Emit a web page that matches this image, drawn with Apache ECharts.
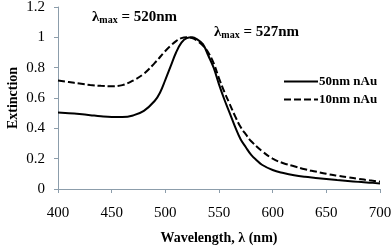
<!DOCTYPE html>
<html><head><meta charset="utf-8">
<script src="https://cdn.jsdelivr.net/npm/echarts@6/dist/echarts.min.js"></script>
<style>html,body{margin:0;padding:0;background:#fff}#c{width:392px;height:250px}</style>
</head><body><div id="c"></div>
<script>
var wl50 = [400,410,420,430,440,450,460,470,480,490,495,500,505,510,515,520,525,530,535,540,545,550,555,560,565,570,575,580,585,590,600,610,620,630,640,650,660,670,680,690,700];
var ext50 = [0.505,0.500,0.494,0.487,0.480,0.475,0.474,0.485,0.515,0.580,0.635,0.720,0.810,0.900,0.965,0.995,1.000,0.985,0.955,0.880,0.800,0.690,0.590,0.500,0.410,0.330,0.275,0.225,0.190,0.160,0.125,0.105,0.090,0.080,0.073,0.066,0.059,0.053,0.047,0.042,0.037];
var wl10 = [400,410,420,430,440,450,460,470,480,490,500,505,510,515,520,525,530,535,540,545,550,555,560,565,570,575,580,590,600,610,620,630,640,650,660,670,680,690,700];
var ext10 = [0.715,0.705,0.695,0.686,0.680,0.677,0.685,0.715,0.760,0.830,0.910,0.945,0.975,0.995,1.000,0.995,0.975,0.945,0.900,0.830,0.730,0.640,0.560,0.480,0.410,0.360,0.315,0.250,0.200,0.170,0.150,0.130,0.115,0.100,0.088,0.077,0.067,0.057,0.048];
var seriesNames = ['50nm nAu','10nm nAu'];
var xTitle = 'Wavelength, \u03bb (nm)';
var yTitle = 'Extinction';
var peakLabels = ['520nm','527nm'];

function pairs(x,y){return x.map(function(v,i){return [v,y[i]];});}
var F = '"Liberation Serif", "Times New Roman", serif';
var axisCol = '#8c9dab';
var chart = echarts.init(document.getElementById('c'), null, {renderer:'canvas'});
var lamRich = {
  l:{fontFamily:F,fontWeight:'bold',fontSize:15,color:'#000'},
  s:{fontFamily:F,fontWeight:'bold',fontSize:10,color:'#000',verticalAlign:'bottom',padding:[6,0,0,0]}
};
chart.setOption({
  animation:false,
  grid:{left:58,right:12,top:7,bottom:61,containLabel:false,outerBoundsMode:'none'},
  legend:{
    orient:'vertical',left:278,top:70,itemWidth:34,itemHeight:10,itemGap:5,
    itemStyle:{color:'transparent',borderColor:'transparent',borderWidth:0,opacity:0},
    textStyle:{fontFamily:F,fontWeight:'bold',fontSize:13,color:'#000',padding:[0,0,0,-4]},
    data:seriesNames
  },
  xAxis:{type:'value',min:400,max:700,interval:50,
    axisLine:{lineStyle:{color:axisCol,width:1}},
    axisTick:{show:true,length:4,lineStyle:{color:axisCol}},
    splitLine:{show:false},
    axisLabel:{fontFamily:F,fontSize:15,color:'#000',margin:17},
    name:xTitle,nameLocation:'middle',nameGap:42,nameMoveOverlap:false,
    nameTextStyle:{fontFamily:F,fontWeight:'bold',fontSize:14,color:'#000'}
  },
  yAxis:{type:'value',min:0,max:1.2,interval:0.2,
    axisLine:{show:true,lineStyle:{color:axisCol,width:1}},
    axisTick:{show:true,length:4,lineStyle:{color:axisCol}},
    splitLine:{show:false},
    axisLabel:{fontFamily:F,fontSize:15,color:'#000',margin:13},
    name:yTitle,nameLocation:'middle',nameGap:38,nameMoveOverlap:false,
    nameTextStyle:{fontFamily:F,fontWeight:'bold',fontSize:14,color:'#000'}
  },
  series:[
    {name:seriesNames[0],type:'line',data:pairs(wl50,ext50),smooth:0.4,showSymbol:false,symbol:'none',
     lineStyle:{color:'#000',width:2,type:'solid'},itemStyle:{color:'#000'}},
    {name:seriesNames[1],type:'line',data:pairs(wl10,ext10),smooth:0.4,showSymbol:false,symbol:'none',
     lineStyle:{color:'#000',width:2,type:[7,3]},itemStyle:{color:'#000'}}
  ],
  graphic:[
    {type:'text',left:92,top:10,style:{text:'{l|\u03bb}{s|max}{l| = '+peakLabels[0]+'}',rich:lamRich}},
    {type:'text',left:214,top:25,style:{text:'{l|\u03bb}{s|max}{l| = '+peakLabels[1]+'}',rich:lamRich}}
  ]
});
</script></body></html>
